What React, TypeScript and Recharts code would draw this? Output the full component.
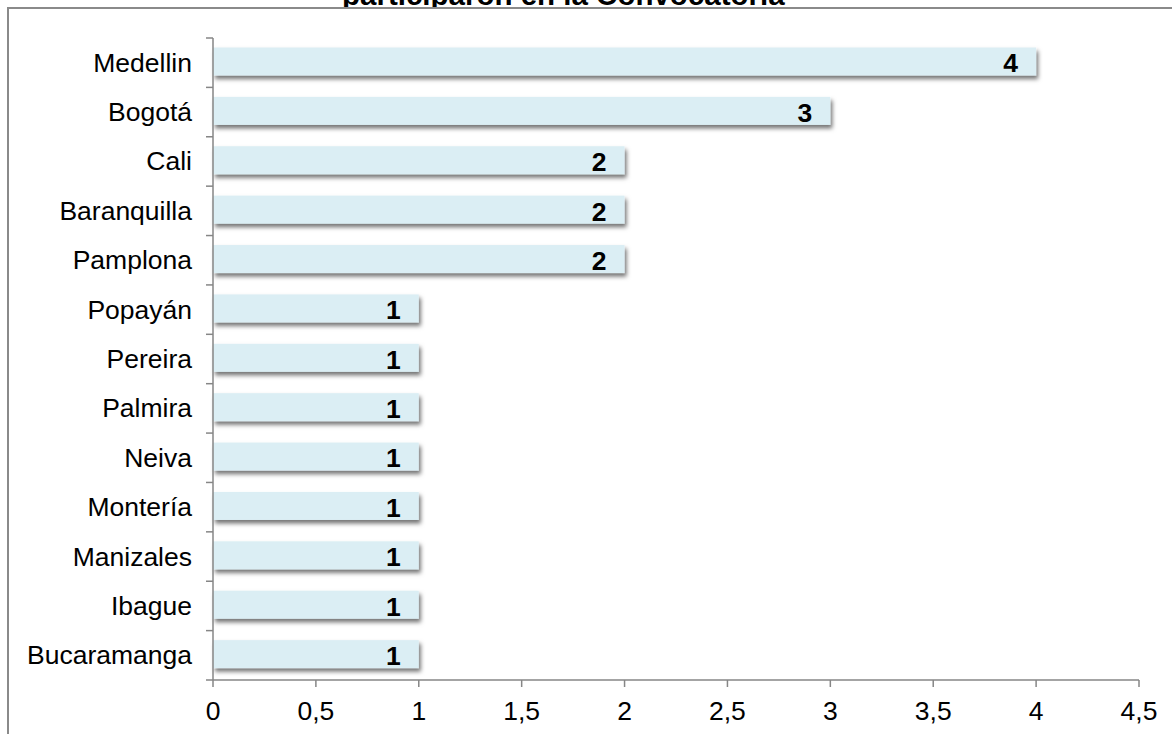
import React from 'react';
import { BarChart, Bar, XAxis, YAxis, LabelList } from 'recharts';

const cities = [
  'Medellin',
  'Bogotá',
  'Cali',
  'Baranquilla',
  'Pamplona',
  'Popayán',
  'Pereira',
  'Palmira',
  'Neiva',
  'Montería',
  'Manizales',
  'Ibague',
  'Bucaramanga',
];
const counts = [4, 3, 2, 2, 2, 1, 1, 1, 1, 1, 1, 1, 1];
const xTicks = [0, 0.5, 1, 1.5, 2, 2.5, 3, 3.5, 4, 4.5];
const title = 'participaron en la Convocatoria';

const data = cities.map((city, i) => ({ city, count: counts[i] }));

const W = 1172;
const H = 734;
const X_AXIS_H = 30;
const margin = { top: 38, right: 33, bottom: 24, left: 13 };
const plotH = H - margin.top - margin.bottom - X_AXIS_H;
const band = plotH / cities.length;
const axisColor = '#868686';
const font = 'Arial, "Liberation Sans", sans-serif';
const fontSize = 26.5;

function CityTick(props: any) {
  const { x, y, payload, index } = props;
  const top = y - band / 2;
  const bottom = y + band / 2;
  return (
    <g>
      <line x1={x - 7} x2={x} y1={top} y2={top} stroke={axisColor} strokeWidth={1.5} />
      {index === cities.length - 1 && (
        <line x1={x - 7} x2={x} y1={bottom} y2={bottom} stroke={axisColor} strokeWidth={1.5} />
      )}
      <text
        x={x - 21}
        y={y}
        textAnchor="end"
        dominantBaseline="central"
        fill="#000"
        fontSize={fontSize}
        fontFamily={font}
      >
        {payload.value}
      </text>
    </g>
  );
}

function ShadowBar(props: any) {
  const { x, y, width, height } = props;
  return (
    <rect x={x} y={y - 1.5} width={width} height={height} fill="#DBEEF4" filter="url(#barShadow)" />
  );
}

export default function App() {
  return (
    <div
      style={{
        position: 'absolute',
        left: 0,
        top: 0,
        width: W,
        height: H,
        overflow: 'hidden',
        background: '#fff',
        fontFamily: font,
      }}
    >
      <div
        style={{
          position: 'absolute',
          left: 0,
          top: 0,
          width: W,
          height: 8,
          overflow: 'hidden',
        }}
      >
        <div
          style={{
            position: 'absolute',
            left: 342,
            top: 7 - 29.5 * 0.905,
            fontSize: 29.5,
            lineHeight: '29.5px',
            fontWeight: 'bold',
            whiteSpace: 'nowrap',
            color: '#000',
          }}
        >
          {title}
        </div>
      </div>
      <div
        style={{
          position: 'absolute',
          left: 7,
          top: 7,
          width: W,
          height: H,
          borderLeft: '2px solid #8a8a8a',
          borderTop: '2px solid #8a8a8a',
        }}
      />
      <div style={{ position: 'absolute', left: 0, top: 0 }}>
        <BarChart width={W} height={H} data={data} layout="vertical" margin={margin} barSize={28}>
          <defs>
            <filter id="barShadow" x="-5%" y="-30%" width="110%" height="190%">
              <feDropShadow dx={2} dy={3.5} stdDeviation={2.2} floodColor="#000" floodOpacity={0.55} />
            </filter>
          </defs>
          <XAxis
            type="number"
            domain={[0, 4.5]}
            ticks={xTicks}
            interval={0}
            height={X_AXIS_H}
            tickFormatter={(v: number) => String(v).replace('.', ',')}
            axisLine={{ stroke: axisColor, strokeWidth: 1.5 }}
            tickLine={{ stroke: axisColor, strokeWidth: 1.5 }}
            tickSize={7}
            tickMargin={14}
            tick={{ fill: '#000', fontSize, fontFamily: font }}
          />
          <YAxis
            type="category"
            dataKey="city"
            width={200}
            interval={0}
            tickLine={false}
            tickSize={0}
            tickMargin={0}
            axisLine={{ stroke: axisColor, strokeWidth: 1.5 }}
            tick={<CityTick />}
          />
          <Bar dataKey="count" shape={<ShadowBar />} isAnimationActive={false}>
            <LabelList
              dataKey="count"
              position="insideRight"
              offset={18}
              fill="#000"
              fontSize={fontSize}
              fontWeight="bold"
              fontFamily={font}
            />
          </Bar>
        </BarChart>
      </div>
    </div>
  );
}
